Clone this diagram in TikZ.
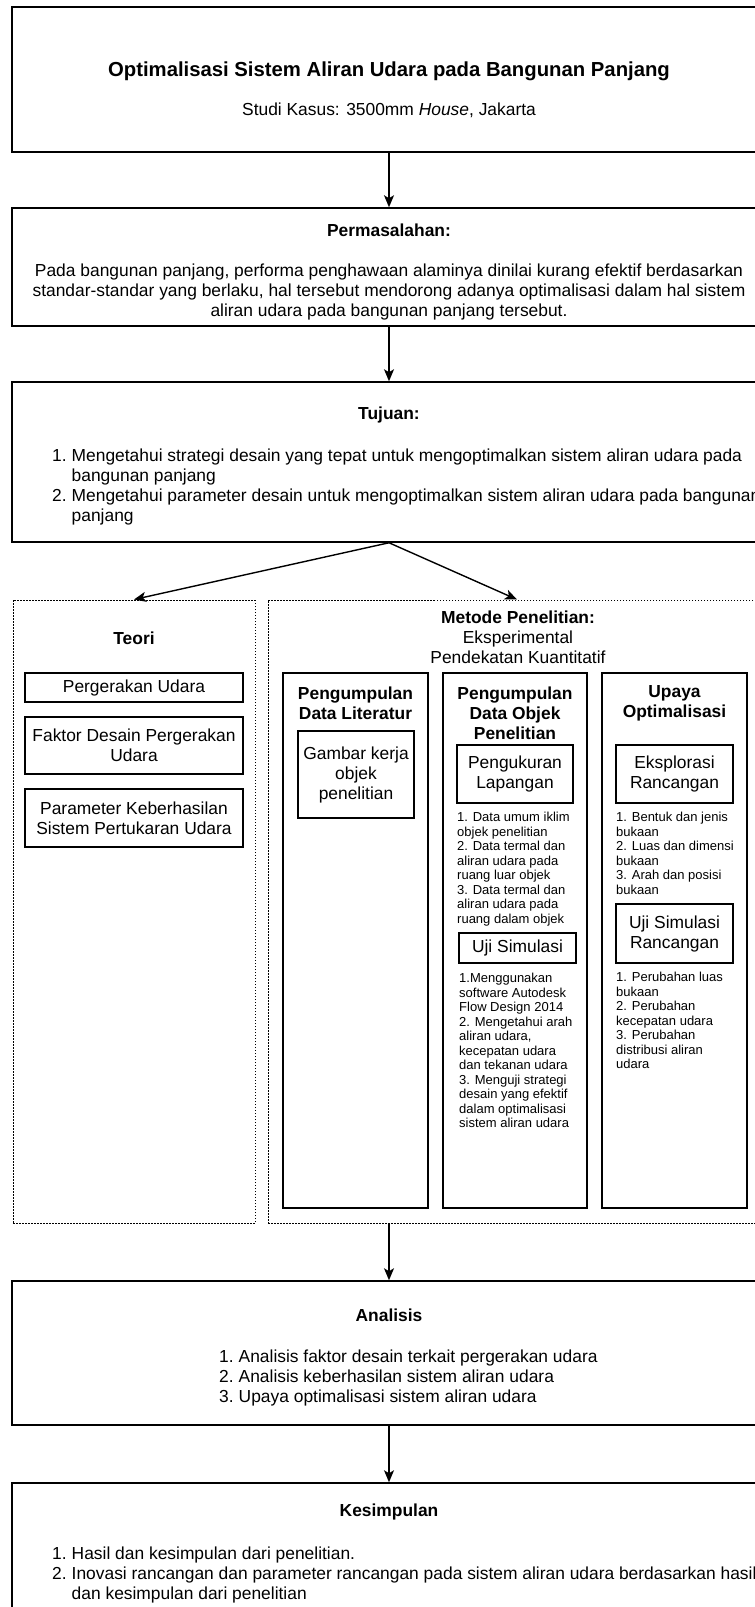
\documentclass[tikz,border=0pt]{standalone}
\usepackage{fontspec}
\setmainfont{Liberation Sans}
\usetikzlibrary{arrows.meta,positioning}
\newcommand\isibesar{\fontsize{17.4}{20}\selectfont}
\newcommand\isikecil{\fontsize{13}{14.5}\selectfont}
\newcommand\judulbesar{\fontsize{20.3}{23}\selectfont\bfseries}

\begin{document}
\begin{tikzpicture}[x=1pt,y=-1pt,
  kotak/.style={draw,line width=1.5pt,inner sep=0pt,align=center,font=\isibesar},
  subkotak/.style={kotak,line width=1.2pt},
  titik/.style={draw,line width=1pt,dash pattern=on 1.5pt off 1.5pt,inner sep=0pt},
  panah/.style={-{Stealth[length=12pt,width=10pt,inset=3pt]},line width=1.4pt},
  teks/.style={inner sep=0pt,align=center,font=\isibesar},
  tebal/.style={teks,font=\isibesar\bfseries},
  daftar/.style={inner sep=0pt,align=left,font=\isikecil,anchor=north west}]
\useasboundingbox (0,0) rectangle (755,1607);
\clip (0,0) rectangle (755,1607);
\fill[white] (0,0) rectangle (755,1607);

\node[kotak,minimum width=754,minimum height=145] (judul) at (389,79.5) {};
\node[teks,font=\judulbesar] (judulteks) at (389,71) {Optimalisasi Sistem Aliran Udara pada Bangunan Panjang};
\node[teks] (kasus) at (389,110) {Studi Kasus: 3500mm \textit{House}, Jakarta};

\node[kotak,minimum width=754,minimum height=118] (masalah) at (389,267) {};
\node[tebal] (masalahjdl) at (389,230) {Permasalahan:};
\node[teks] (masalahisi) at (389,292) {Pada bangunan panjang, performa penghawaan alaminya dinilai kurang efektif berdasarkan\\standar-standar yang berlaku, hal tersebut mendorong adanya optimalisasi dalam hal sistem\\aliran udara pada bangunan panjang tersebut.};

\node[kotak,minimum width=754,minimum height=160] (tujuan) at (389,462) {};
\node[tebal] (tujuanjdl) at (389,415) {Tujuan:};
\node[teks,anchor=west] (tujuanisi) at (52,487) {\begin{tabular}{@{}r@{\hspace{5pt}}l@{}}
1. & Mengetahui strategi desain yang tepat untuk mengoptimalkan sistem aliran udara pada\\
 & bangunan panjang\\
2. & Mengetahui parameter desain untuk mengoptimalkan sistem aliran udara pada bangunan\\
 & panjang\end{tabular}};

\node[titik,minimum width=242,minimum height=623] (teori) at (134,911.5) {};
\node[tebal] (teorijdl) at (134,638) {Teori};
\node[subkotak,minimum width=218,minimum height=29] (gerak) at (134,687.5) {Pergerakan Udara};
\node[subkotak,minimum width=218,minimum height=57] (faktor) at (134,745.5) {Faktor Desain Pergerakan\\Udara};
\node[subkotak,minimum width=218,minimum height=58] (parameter) at (134,818) {Parameter Keberhasilan\\Sistem Pertukaran Udara};

\node[titik,minimum width=498,minimum height=623] (metode) at (517,911.5) {};
\node[teks] (metodejdl) at (518,637) {\textbf{Metode Penelitian:}\\Eksperimental\\Pendekatan Kuantitatif};

\node[kotak,minimum width=145,minimum height=535] (kolom1) at (355.5,940.5) {};
\node[kotak,minimum width=144,minimum height=535] (kolom2) at (515,940.5) {};
\node[kotak,minimum width=145,minimum height=535] (kolom3) at (674.5,940.5) {};

\node[tebal] (literatur) at (355.5,703) {Pengumpulan\\Data Literatur};
\node[subkotak,minimum width=116,minimum height=87] (gambar) at (356,774.5) {Gambar kerja\\objek\\penelitian};

\node[tebal] (objek) at (515,713) {Pengumpulan\\Data Objek\\Penelitian};
\node[subkotak,minimum width=116,minimum height=58] (ukur) at (515,774) {Pengukuran\\Lapangan};
\node[daftar] (ukurisi) at (457,812) {1. Data umum iklim\\objek penelitian\\2. Data termal dan\\aliran udara pada\\ruang luar objek\\3. Data termal dan\\aliran udara pada\\ruang dalam objek};
\node[subkotak,minimum width=117,minimum height=30] (ujisim) at (517.5,948) {Uji Simulasi};
\node[daftar] (ujisimisi) at (459,973) {1.Menggunakan\\software Autodesk\\Flow Design 2014\\2. Mengetahui arah\\aliran udara,\\kecepatan udara\\dan tekanan udara\\3. Menguji strategi\\desain yang efektif\\dalam optimalisasi\\sistem aliran udara};

\node[tebal] (upaya) at (674.5,703) {Upaya\\Optimalisasi};
\node[subkotak,minimum width=117,minimum height=58] (eksplor) at (674.5,774) {Eksplorasi\\Rancangan};
\node[daftar] (eksplorisi) at (616,812) {1. Bentuk dan jenis\\bukaan\\2. Luas dan dimensi\\bukaan\\3. Arah dan posisi\\bukaan};
\node[subkotak,minimum width=117,minimum height=59] (ujirancang) at (674.5,933.5) {Uji Simulasi\\Rancangan};
\node[daftar] (ujirancangisi) at (616,972) {1. Perubahan luas\\bukaan\\2. Perubahan\\kecepatan udara\\3. Perubahan\\distribusi aliran\\udara};

\node[kotak,minimum width=754,minimum height=144] (analisis) at (389,1353) {};
\node[tebal] (analisisjdl) at (389,1315) {Analisis};
\node[teks,anchor=west] (analisisisi) at (219,1378) {\begin{tabular}{@{}r@{\hspace{5pt}}l@{}}
1. & Analisis faktor desain terkait pergerakan udara\\
2. & Analisis keberhasilan sistem aliran udara\\
3. & Upaya optimalisasi sistem aliran udara\end{tabular}};

\node[kotak,minimum width=754,minimum height=142] (simpulan) at (389,1554) {};
\node[tebal] (simpulanjdl) at (389,1512) {Kesimpulan};
\node[teks,anchor=west] (simpulanisi) at (52,1575) {\begin{tabular}{@{}r@{\hspace{5pt}}l@{}}
1. & Hasil dan kesimpulan dari penelitian.\\
2. & Inovasi rancangan dan parameter rancangan pada sistem aliran udara berdasarkan hasil\\
 & dan kesimpulan dari penelitian\end{tabular}};

\draw[panah] (judul.south) -- (masalah.north);
\draw[panah] (masalah.south) -- (tujuan.north);
\draw[panah] (tujuan.south) -- (teori.north);
\draw[panah] (tujuan.south) -- (metode.north);
\draw[panah] (metode.south -| analisis.north) -- (analisis.north);
\draw[panah] (analisis.south) -- (simpulan.north);
\end{tikzpicture}
\end{document}
